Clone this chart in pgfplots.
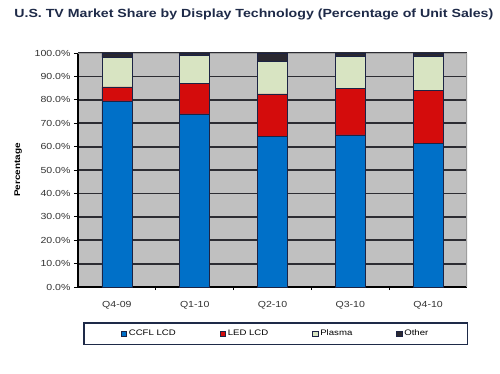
\documentclass[border=0pt]{standalone}
\usepackage{fontspec}
\setmainfont{Liberation Sans}[FakeStretch=1.2]
\usepackage{pgfplots}
\pgfplotsset{compat=1.18}
\definecolor{ccfl}{HTML}{0070C8}
\definecolor{led}{HTML}{D40C0C}
\definecolor{plasma}{HTML}{D8E4C2}
\definecolor{other}{HTML}{2A2830}
\definecolor{bg}{HTML}{C0C0C0}
\definecolor{gridc}{HTML}{2C2C32}
\definecolor{titlec}{HTML}{1E2A48}
\definecolor{edgec}{HTML}{1C2344}
\pgfplotsset{
  sq legend/.style={legend image code/.code={\draw[##1, draw=edgec, line width=0.4pt] (0pt,-2.8pt) rectangle (5.6pt,2.8pt);}},
}
\begin{document}
\begin{tikzpicture}[x=1pt,y=1pt]
\useasboundingbox[fill=white] (0,0) rectangle (500,373);
\begin{axis}[
  at={(78pt,86pt)}, anchor=south west,
  scale only axis, width=389pt, height=234pt,
  ybar stacked, bar width=30pt,
  xmin=-0.5, xmax=4.5, ymin=0, ymax=100,
  axis background/.style={fill=bg},
  axis x line*=bottom, axis y line*=left,
  axis line style={draw=black, line width=1.2pt, -},
  tick align=outside, major tick length=4pt,
  tick style={draw=black, line width=0.9pt},
  xtick={0,...,4}, xticklabels={Q4-09,Q1-10,Q2-10,Q3-10,Q4-10},
  xtick style={draw=none},
  extra x ticks={0.5,1.5,2.5,3.5}, extra x tick labels={},
  extra x tick style={grid=none, xtick style={draw=black, line width=0.9pt}, major tick length=3pt},
  ytick={0,10,...,100},
  yticklabel={\pgfmathprintnumber[fixed,fixed zerofill,precision=1]{\tick}\%},
  /pgf/number format/assume math mode=true,
  ymajorgrids, grid style={gridc, line width=1.8pt},
  tick label style={font=\fontsize{8.8}{10}\selectfont, text=black!80},
  xticklabel style={yshift=-7pt},
  ylabel={\textbf{Percentage}},
  ylabel style={font=\fontsize{8.3}{10}\selectfont, at={(axis description cs:-0.154,0.5)}, anchor=center},
  title={\textbf{U.S. TV Market Share by Display Technology (Percentage of Unit Sales)}},
  title style={font=\fontsize{11.8}{13}\selectfont, text=titlec, at={(axis description cs:0.452,1.141)}, anchor=center},
  legend columns=4,
  legend style={at={(axis description cs:0.508,-0.199)}, anchor=center,
    draw=titlec, line width=1.3pt, font=\fontsize{8}{9}\selectfont,
    inner xsep=37pt, inner ysep=5pt,
    /tikz/every even column/.append style={column sep=42pt}},
]
\addplot[fill=ccfl, draw=edgec, line width=0.5pt, sq legend] coordinates {(0,79.5) (1,74) (2,64.5) (3,65) (4,61.5)};
\addplot[fill=led, draw=edgec, line width=0.5pt, sq legend] coordinates {(0,6) (1,13) (2,18) (3,20) (4,22.5)};
\addplot[fill=plasma, draw=edgec, line width=0.5pt, sq legend] coordinates {(0,12.5) (1,12) (2,14) (3,13.5) (4,14.5)};
\addplot[fill=other, draw=edgec, line width=0.5pt, sq legend] coordinates {(0,2) (1,1) (2,3.5) (3,1.5) (4,1.5)};
\legend{CCFL LCD, LED LCD, Plasma, Other}
\draw[black!38, line width=1.2pt] (rel axis cs:0,1) -- (rel axis cs:1,1) -- (rel axis cs:1,0);
\node[anchor=east, font=\fontsize{6.3}{7}\selectfont, text=black!75] at (axis description cs:1.033,-0.303) {Source: IHS iSuppli Research, March 2011};
\end{axis}
\end{tikzpicture}
\end{document}
